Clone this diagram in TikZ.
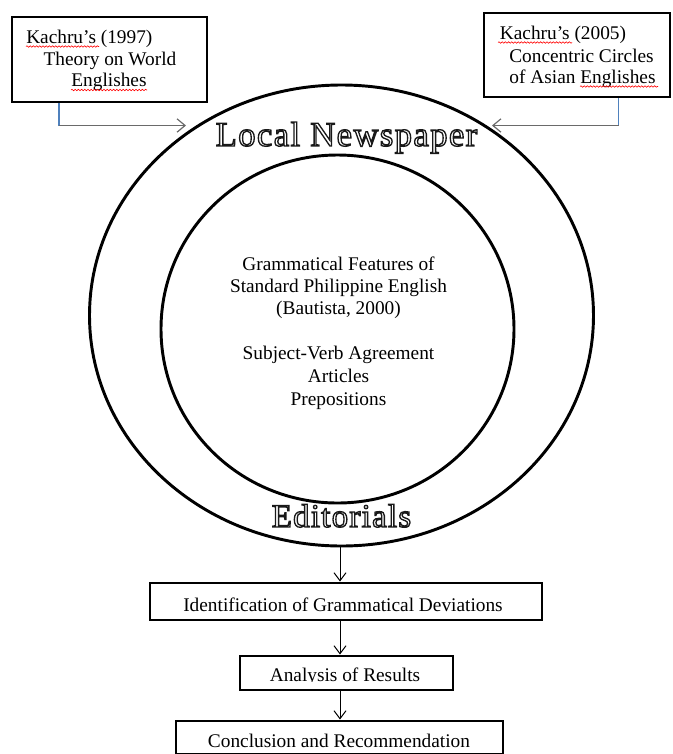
\documentclass[tikz,border=0pt]{standalone}
\usepackage{fontspec}
\setmainfont{Liberation Serif}
\newfontfamily\outfontA[LetterSpace=4]{Liberation Serif}
\newfontfamily\outfontB[LetterSpace=4]{Liberation Serif}
\usetikzlibrary{arrows.meta,decorations.pathmorphing,shapes.geometric}
\definecolor{wordblue}{HTML}{4F81BD}
\definecolor{arrgray}{HTML}{6A6A6A}
\newcommand\outlinetext[1]{%
  {\color{white}\special{pdf:literal direct 2 Tr 1.0 w 0.1 G}#1\special{pdf:literal direct 0 Tr}}}
\begin{document}
\begin{tikzpicture}[x=0.75pt,y=-0.75pt,
  ring/.style={draw, ellipse, line width=2.2pt, inner sep=0pt},
  box/.style={draw, line width=2.2pt, inner sep=0pt},
  txt/.style={font=\fontsize{14.5pt}{17pt}\selectfont, inner sep=0pt, anchor=base},
  txtw/.style={txt, anchor=base west},
  flow/.style={draw=black, line width=0.75pt, -{Straight Barb[length=6pt,width=9pt,line width=0.75pt]}},
  side/.style={draw=arrgray, line width=0.9pt, -{Straight Barb[length=6pt,width=10pt,line width=0.9pt]}},
  feed/.style={draw=wordblue, line width=0.9pt},
  squig/.style={red, line width=0.45pt, decorate, decoration={snake, segment length=2.4pt, amplitude=0.55pt}},
  bigA/.style={font=\outfontA\fontsize{26pt}{28pt}\selectfont, inner sep=0pt, anchor=base},
  bigB/.style={font=\outfontB\fontsize{24.6pt}{26pt}\selectfont, inner sep=0pt, anchor=base}]
\useasboundingbox (0,0) rectangle (672,754);

% rings
\node[ring, minimum width=378pt, minimum height=345.75pt] (outer) at (341.5,315.5) {};
\node[ring, minimum width=264.75pt, minimum height=261pt] (inner) at (337.5,329) {};

% top boxes
\node[box, minimum width=146.25pt, minimum height=63.75pt] (lbox) at (109.5,59.5) {};
\node[box, minimum width=139.5pt, minimum height=63pt] (rbox) at (577,55) {};

\node[txtw] (l1) at (26,43) {Kachru’s (1997)};
\node[txt] (l2) at (110,65.5) {Theory on World};
\node[txt] (l3) at (109,86.5) {Englishes};
\node[txt] (r1) at (563,39) {Kachru’s (2005)};
\node[txt] (r2) at (581.5,62.5) {Concentric Circles};
\node[txt] (r3) at (582.5,83) {of Asian Englishes};

\draw[squig] (26,46.5) -- (99,46.5);
\draw[squig] (71,90) -- (147,90);
\draw[squig] (498,42.5) -- (572,42.5);
\draw[squig] (580,86.5) -- (658,86.5);

% connectors to the rings
\coordinate (lk) at (59,125.5);
\coordinate (ltip) at (186,125.5);
\coordinate (rk) at (618.5,125.5);
\coordinate (rtip) at (492,125.5);
\draw[feed] (lbox.south -| lk) -- (lk);
\draw[side] (lk) -- (ltip);
\draw[feed] (rbox.south -| rk) -- (rk);
\draw[side] (rk) -- (rtip);

% ring labels
\node[bigA] (news) at (346.5,146) {\outlinetext{Local Newspaper}};
\node[bigB] (edit) at (341.5,527) {\outlinetext{Editorials}};

% inner text
\node[txt] (g1) at (338.5,270) {Grammatical Features of};
\node[txt] (g2) at (338.5,292) {Standard Philippine English};
\node[txt] (g3) at (338.5,314) {(Bautista, 2000)};
\node[txt] (g4) at (338.5,359) {Subject-Verb Agreement};
\node[txt] (g5) at (338.5,382) {Articles};
\node[txt] (g6) at (338.5,405) {Prepositions};

% process boxes
\node[box, minimum width=294pt, minimum height=27.75pt] (ident) at (346,601.5) {};
\node[box, minimum width=159.75pt, minimum height=25.5pt] (anal) at (346.5,673) {};
\node[box, minimum width=245.25pt, minimum height=24.75pt] (concl) at (339.5,737.5) {};
\node[txt] (identt) at (343,611) {Identification of Grammatical Deviations};
\begin{scope}
\clip (200,650) rectangle (500,681.5);
\node[txt] (analt) at (345,681.5) {Analysis of Results};
\end{scope}
\node[txt] (conclt) at (339,747) {Conclusion and Recommendation};

\coordinate (ax) at (340,0);
\draw[flow] (outer.south -| ax) -- (ident.north -| ax);
\draw[flow] (ident.south -| ax) -- (anal.north -| ax);
\draw[flow] (anal.south -| ax) -- (concl.north -| ax);
\end{tikzpicture}
\end{document}
